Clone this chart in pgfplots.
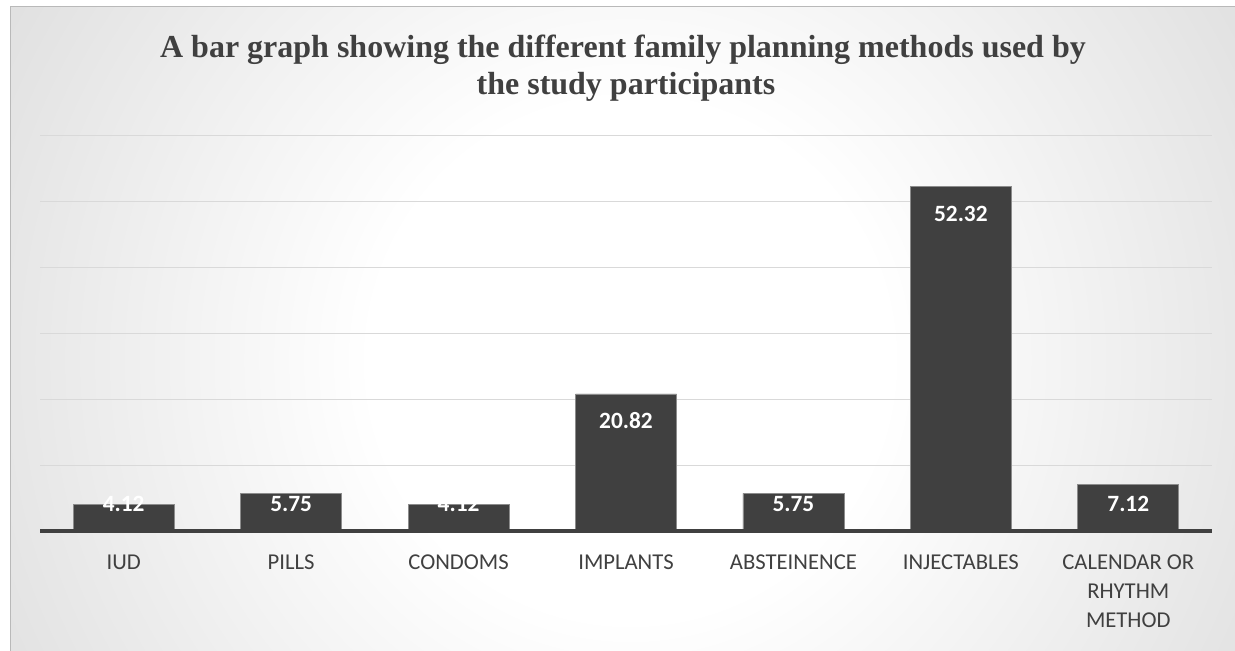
\documentclass[border=0pt]{standalone}
\usepackage{pgfplots}
\pgfplotsset{compat=1.18}
\usepackage{fontspec}
\setmainfont{Carlito}
\newfontfamily\titlefont{Liberation Serif}
\definecolor{bardark}{HTML}{404040}
\definecolor{txtdark}{HTML}{404040}
\definecolor{gridgray}{HTML}{D9D9D9}
\definecolor{baredge}{HTML}{8C8C8C}
\pgfdeclareradialshading{chartbg}{\pgfpoint{0bp}{0bp}}{color(0bp)=(white); color(9bp)=(white); color(46bp)=(gray!56); color(50bp)=(gray!58)}

\begin{document}
\begin{tikzpicture}[x=0.75pt,y=0.75pt]
% canvas 1235 x 650 px, y measured upwards
\path[use as bounding box,fill=white] (0,0) rectangle (1235,650);
\begin{scope}
  \clip (10,0) rectangle (1235,643);
  \shade[shading=chartbg] (630-720,290-720) rectangle (630+720,290+720);
\end{scope}
\draw[gray!55,line width=0.75pt] (10,-2) -- (10,643) -- (1237,643);

\node[anchor=base,font=\titlefont\bfseries\fontsize{24}{28}\selectfont,text=txtdark]
  at (623,592) {A bar graph showing the different family planning methods used by};
\node[anchor=base,font=\titlefont\bfseries\fontsize{24}{28}\selectfont,text=txtdark]
  at (626,555) {the study participants};

\begin{axis}[
  at={(30pt,89pt)}, anchor=south west,
  scale only axis,
  width=879pt, height=297pt,
  xmin=-0.5, xmax=6.5,
  ymin=0, ymax=60,
  ytick={10,20,...,60},
  yticklabels={},
  ymajorgrids,
  major grid style={gridgray,line width=1.1pt},
  major tick length=0pt,
  axis line style={draw=none},
  xtick={0,...,6},
  xticklabels={IUD,PILLS,CONDOMS,IMPLANTS,ABSTEINENCE,INJECTABLES,{CALENDAR OR\\RHYTHM\\METHOD}},
  xticklabel style={align=center,anchor=north,inner sep=0pt,yshift=-17.5pt,
    font=\fontsize{17}{21.75}\selectfont,text=txtdark},
  ybar, bar width=75.75pt,
  visualization depends on={y \as \rawy},
  nodes near coords={\pgfmathprintnumber[fixed,fixed zerofill,precision=2,assume math mode=true]{\pgfplotspointmeta}},
  every node near coord/.append style={anchor=base,text=white,
    font=\bfseries\fontsize{17.5}{20}\selectfont,
    yshift={-0.75*min(35,6.6*\rawy-19.5)}},
  clip=false,
]
\addplot[fill=bardark,draw=baredge,line width=0.6pt] coordinates {
  (0,4.12) (1,5.75) (2,4.12) (3,20.82) (4,5.75) (5,52.32) (6,7.12)
};
\draw[bardark,line width=3pt] (axis cs:-0.5,0) -- (axis cs:6.5,0);
\end{axis}
\end{tikzpicture}
\end{document}
